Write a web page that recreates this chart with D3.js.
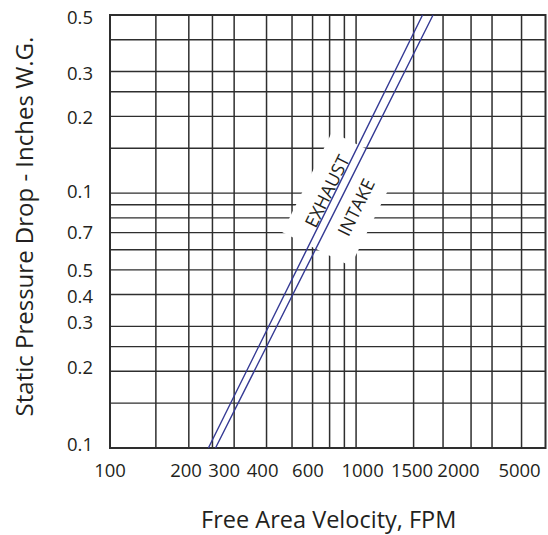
<!DOCTYPE html>
<html>
<head>
<meta charset="utf-8">
<script src="https://cdn.jsdelivr.net/npm/d3@7"></script>
<style>
  html, body { margin: 0; padding: 0; background: #fff; }
  svg { display: block; }
  text { font-family: "Open Sans", "Noto Sans", sans-serif; fill: #231f20; }
</style>
</head>
<body>
<svg id="chart" width="548" height="535"></svg>
<script>
// ---- data ----
const xDomain = [100, 5000];          // Free Area Velocity, FPM (log)
const yDomain = [0.01, 0.5];          // Static pressure drop, in. W.G. (log)

// vertical grid lines (FPM)
const xGrid = [151, 203, 251, 305, 408, 513, 617, 719, 821, 912, 1529, 1992, 2562, 3093, 4032];
// horizontal grid lines (in. W.G.)
const yGrid = [0.015, 0.02, 0.025, 0.03, 0.04, 0.05, 0.06, 0.07, 0.08, 0.09, 0.1, 0.15, 0.2, 0.25, 0.3, 0.4];

// x tick labels and where they sit (FPM)
const xTickLabels = ["100", "200", "300", "400", "600", "1000", "1500", "2000", "5000"];
const xTickAt     = [100, 198, 279, 394, 592, 967, 1508, 2289, 3960];

// y tick labels (as printed) and where they sit (in. W.G.)
const yTickLabels = ["0.5", "0.3", "0.2", "0.1", "0.7", "0.5", "0.4", "0.3", "0.2", "0.1"];
const yTickAt     = [0.493, 0.297, 0.2, 0.102, 0.0705, 0.0502, 0.0398, 0.0314, 0.0209, 0.0104];

// series: velocity (FPM) vs pressure drop (in. W.G.)
const exhaustV = [242, 753, 1657];
const exhaustP = [0.01, 0.1, 0.5];
const intakeV  = [258, 817, 1821];
const intakeP  = [0.01, 0.1, 0.5];

const seriesNames = ["EXHAUST", "INTAKE"];
const labelV = [701, 909];
const labelP = [0.102, 0.0882];

const xTitle = "Free Area Velocity, FPM";
const yTitle = "Static Pressure Drop - Inches W.G.";

// ---- drawing ----
const svg = d3.select("#chart");
const m = { left: 110, right: 545.5, top: 15, bottom: 448 };

const x = d3.scaleLog().domain(xDomain).range([m.left, m.right]);
const y = d3.scaleLog().domain(yDomain).range([m.bottom, m.top]);

const gridColor = "#2e2e2e";

// grid
const g = svg.append("g");
g.selectAll("line.vx").data(xGrid).enter().append("line")
  .attr("x1", d => x(d)).attr("x2", d => x(d))
  .attr("y1", y(yDomain[0])).attr("y2", y(yDomain[1]))
  .attr("stroke", gridColor).attr("stroke-width", 1.5);
g.selectAll("line.hy").data(yGrid).enter().append("line")
  .attr("y1", d => y(d)).attr("y2", d => y(d))
  .attr("x1", x(xDomain[0])).attr("x2", x(xDomain[1]))
  .attr("stroke", gridColor).attr("stroke-width", 1.4);

// frame
svg.append("rect")
  .attr("x", x(xDomain[0])).attr("y", y(yDomain[1]))
  .attr("width", x(xDomain[1]) - x(xDomain[0]))
  .attr("height", y(yDomain[0]) - y(yDomain[1]))
  .attr("fill", "none").attr("stroke", gridColor).attr("stroke-width", 2);

// label angle from the exhaust line
const ang = Math.atan2(y(exhaustP[2]) - y(exhaustP[0]), x(exhaustV[2]) - x(exhaustV[0])) * 180 / Math.PI;

// white patch behind the labels
const cx = (x(labelV[0]) + x(labelV[1])) / 2;
const cy = (y(labelP[0]) + y(labelP[1])) / 2;
svg.append("rect")
  .attr("x", -56).attr("y", -38).attr("width", 112).attr("height", 76)
  .attr("fill", "#fff")
  .attr("transform", `translate(${cx},${cy}) rotate(${ang})`);

// series lines
const line = d3.line().x(d => x(d[0])).y(d => y(d[1]));
const seriesData = [
  d3.zip(exhaustV, exhaustP),
  d3.zip(intakeV, intakeP)
];
svg.selectAll("path.series").data(seriesData).enter().append("path")
  .attr("d", line)
  .attr("fill", "none")
  .attr("stroke", "#353a94")
  .attr("stroke-width", 1.4);

// series labels
svg.selectAll("text.slabel").data(seriesNames).enter().append("text")
  .attr("transform", (d, i) => `translate(${x(labelV[i])},${y(labelP[i])}) rotate(${ang})`)
  .attr("text-anchor", "middle")
  .attr("dominant-baseline", "central")
  .attr("font-size", 18)
  .text(d => d);

// x tick labels
svg.selectAll("text.xt").data(xTickLabels).enter().append("text")
  .attr("x", (d, i) => x(xTickAt[i]))
  .attr("y", 477)
  .attr("text-anchor", "middle")
  .attr("font-size", 18.5)
  .text(d => d);

// y tick labels
svg.selectAll("text.yt").data(yTickLabels).enter().append("text")
  .attr("x", 93)
  .attr("y", (d, i) => y(yTickAt[i]))
  .attr("text-anchor", "end")
  .attr("dominant-baseline", "central")
  .attr("font-size", 18.5)
  .text(d => d);

// axis titles
svg.append("text")
  .attr("x", (m.left + m.right) / 2 + 1)
  .attr("y", 528)
  .attr("text-anchor", "middle")
  .attr("font-size", 23.5)
  .text(xTitle);

svg.append("text")
  .attr("transform", `translate(33,226.5) rotate(-90)`)
  .attr("text-anchor", "middle")
  .attr("font-size", 24)
  .text(yTitle);
</script>
</body>
</html>
